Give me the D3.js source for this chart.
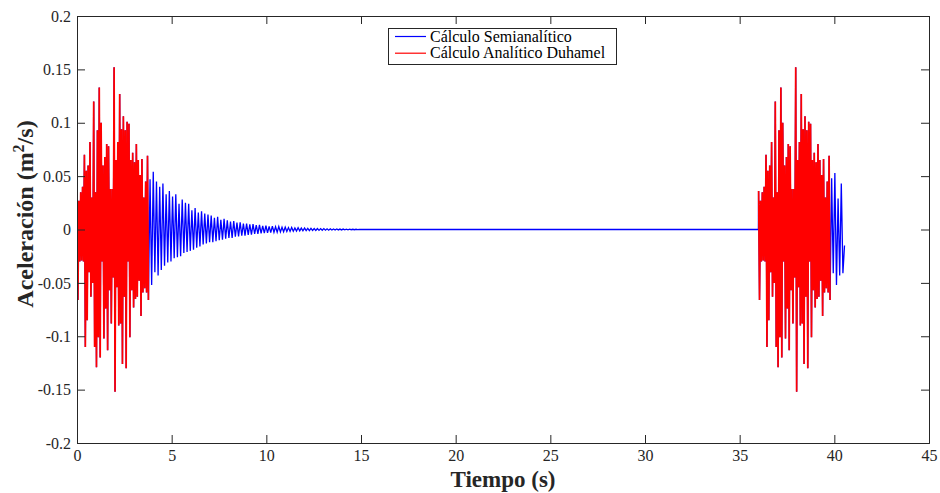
<!DOCTYPE html>
<html><head><meta charset="utf-8">
<script src="https://cdn.jsdelivr.net/npm/d3@7"></script>
<style>body{margin:0;background:#fff}svg{display:block}</style>
</head><body><svg id="c" width="940" height="493"></svg>
<script>
const xTicks = [0,5,10,15,20,25,30,35,40,45];
const yTicks = [-0.2,-0.15,-0.1,-0.05,0,0.05,0.1,0.15,0.2];
const yTickLabels = ["-0.2","-0.15","-0.1","-0.05","0","0.05","0.1","0.15","0.2"];
const seriesNames = ["Cálculo Semianalítico","Cálculo Analítico Duhamel"];

// forced-vibration burst (same record at t = 0 s and t = 36 s), sampled at burstStep
const burstStarts = [0, 36];
const burstStep = 0.049;
const burstValues = [
0.036,-0.066,0.027,-0.030,0.035,-0.029,0.040,-0.030,
0.070,-0.110,0.055,-0.085,0.060,-0.040,0.082,-0.063,
0.030,-0.050,0.120,-0.110,0.035,-0.129,0.093,-0.101,
0.133,-0.120,0.100,-0.030,0.060,-0.102,0.068,-0.074,
0.080,-0.113,0.078,-0.057,0.038,-0.088,0.038,-0.045,
0.152,-0.152,
0.065,-0.054,0.082,-0.090,0.127,-0.088,0.094,-0.126,
0.106,-0.063,0.093,-0.130,0.101,-0.030,0.099,-0.101,
0.065,-0.057,0.072,-0.073,0.063,-0.065,0.080,-0.063,
0.065,-0.048,0.051,-0.081,0.066,-0.059,0.030,-0.055,
0.045,-0.059,0.069,-0.066];

// semi-analytic free vibration after first burst
const decayStep = 0.085;
const decayValues = [
0.047,-0.052,0.054,-0.040,0.045,-0.043,0.040,-0.038,0.043,-0.034,0.033,-0.031,
0.036,-0.030,0.031,-0.027,0.033,-0.026,0.024,-0.025,0.028,-0.022,0.025,-0.021,
0.024,-0.020,0.018,-0.019,0.020,-0.017,0.016,-0.016,0.017,-0.014,0.015,-0.013,
0.014,-0.012,0.013,-0.012,0.011,-0.011,0.012,-0.010,0.009,-0.0095,0.010,-0.0085,
0.0085,-0.008,0.0075,-0.0078,0.0080,-0.0068,0.0065,-0.0066,0.0068,-0.0058,0.0056,-0.0057,
0.0055,-0.0050,0.0048,-0.0049,0.0050,-0.0042,0.0040,-0.0041,0.0043,-0.0036,0.0035,-0.0034,
0.0036,-0.0031,0.0029,-0.0030,0.0031,-0.0026,0.0025,-0.0025,0.0027,-0.0022,0.0021,-0.0021,
0.0022,-0.0019,0.0018,-0.0018,0.0019,-0.0016,0.0015,-0.0015,0.0016,-0.0013,0.0013,-0.0012,
0.0013,-0.0011,0.0011,-0.0011,0.0011,-0.0009,0.0009,-0.0009,0.0009,-0.0008,0.0008,-0.0007,
0.0008,-0.0006,0.0006,-0.0006,0.0006,-0.0005,0.0005,-0.0005,0.0005,-0.0004,0.0004,-0.0004,
0.0004,-0.0003,0.0003,-0.0003,0.0003,-0.0002,0.0002,-0.0002,0.0002,-0.0001,0.0001,0];

// quiet stretch between records
const quietTimes = [15, 35.99];
const quietValues = [0, 0];

// semi-analytic tail after second burst
const tailStep = 0.085;
const tailValues = [0.048,-0.041,0.053,-0.052,0.029,-0.043,0.043,-0.041,-0.015];

const W = 940, H = 493;
const m = {l:77, r:929, t:16, b:443};
const svg = d3.select("#c");
const x = d3.scaleLinear().domain([0,45]).range([m.l,m.r]);
const y = d3.scaleLinear().domain([-0.2,0.2]).range([m.b,m.t]);
const serif = "'Liberation Serif','DejaVu Serif',serif";

svg.append("rect").attr("width",W).attr("height",H).attr("fill","#fff");
svg.append("defs").append("clipPath").attr("id","clip")
  .append("rect").attr("x",m.l).attr("y",m.t).attr("width",m.r-m.l).attr("height",m.b-m.t);

// build series
const burstEnd = (burstValues.length-1)*burstStep;
function burstPts(t0){ return burstValues.map((v,i)=>({t:t0+i*burstStep, v})); }
const blue = [].concat(
  burstPts(burstStarts[0]),
  decayValues.map((v,i)=>({t:burstStarts[0]+burstEnd+(i+1)*decayStep, v})),
  quietTimes.map((t,i)=>({t, v:quietValues[i]})),
  burstPts(burstStarts[1]),
  tailValues.map((v,i)=>({t:burstStarts[1]+burstEnd+(i+1)*tailStep, v}))
);
const line = d3.line().x(d=>x(d.t)).y(d=>y(d.v));
const g = svg.append("g").attr("clip-path","url(#clip)");
g.append("path").datum(blue).attr("d",line).attr("fill","none")
  .attr("stroke","#0000ff").attr("stroke-width",1.3);
burstStarts.forEach(t0=>{
  g.append("path").datum(burstPts(t0)).attr("d",line).attr("fill","none")
   .attr("stroke","#ff0000").attr("stroke-width",1.7);
});

// axes (MATLAB box style, inward ticks on all sides)
const tl = 8;
const axCol = "#262626";
const xb = svg.append("g").attr("transform",`translate(0,${m.b})`)
  .call(d3.axisBottom(x).tickValues(xTicks).tickSize(-tl).tickPadding(7).tickFormat(d3.format("d")));
const xt = svg.append("g").attr("transform",`translate(0,${m.t})`)
  .call(d3.axisTop(x).tickValues(xTicks).tickSize(-tl).tickFormat(""));
const yl = svg.append("g").attr("transform",`translate(${m.l},0)`)
  .call(d3.axisLeft(y).tickValues(yTicks).tickSize(-tl).tickPadding(6).tickFormat((d,i)=>yTickLabels[i]));
const yr = svg.append("g").attr("transform",`translate(${m.r},0)`)
  .call(d3.axisRight(y).tickValues(yTicks).tickSize(-tl).tickFormat(""));
[xb,xt,yl,yr].forEach(a=>{
  a.select(".domain").attr("stroke",axCol).attr("stroke-width",1);
  a.selectAll(".tick line").attr("stroke",axCol).attr("stroke-width",1);
  a.selectAll("text").attr("fill",axCol).style("font-family",serif).style("font-size","16px");
});

// axis titles
svg.append("text").attr("x",(m.l+m.r)/2).attr("y",487).attr("text-anchor","middle")
  .style("font-family",serif).style("font-size","23px").style("font-weight","bold").attr("fill",axCol)
  .text("Tiempo (s)");
const yt = svg.append("text").attr("transform","translate(33,214) rotate(-90)").attr("text-anchor","middle")
  .style("font-family",serif).style("font-size","24px").style("font-weight","bold").attr("fill",axCol);
yt.append("tspan").text("Aceleración (m");
yt.append("tspan").attr("dy",-9).style("font-size","16px").text("2");
yt.append("tspan").attr("dy",9).text("/s)");

// legend
const lg = svg.append("g");
lg.append("rect").attr("x",388.5).attr("y",28.5).attr("width",228).attr("height",36)
  .attr("fill","#fff").attr("stroke",axCol).attr("stroke-width",1);
const lcol = ["#0000ff","#ff0000"];
seriesNames.forEach((n,i)=>{
  const yy = 36.5 + i*16.7;
  lg.append("line").attr("x1",395).attr("x2",426).attr("y1",yy).attr("y2",yy)
    .attr("stroke",lcol[i]).attr("stroke-width",1.2);
  lg.append("text").attr("x",430).attr("y",yy+5).style("font-family",serif).style("font-size","16px")
    .attr("fill","#000").text(n);
});
</script></body></html>
